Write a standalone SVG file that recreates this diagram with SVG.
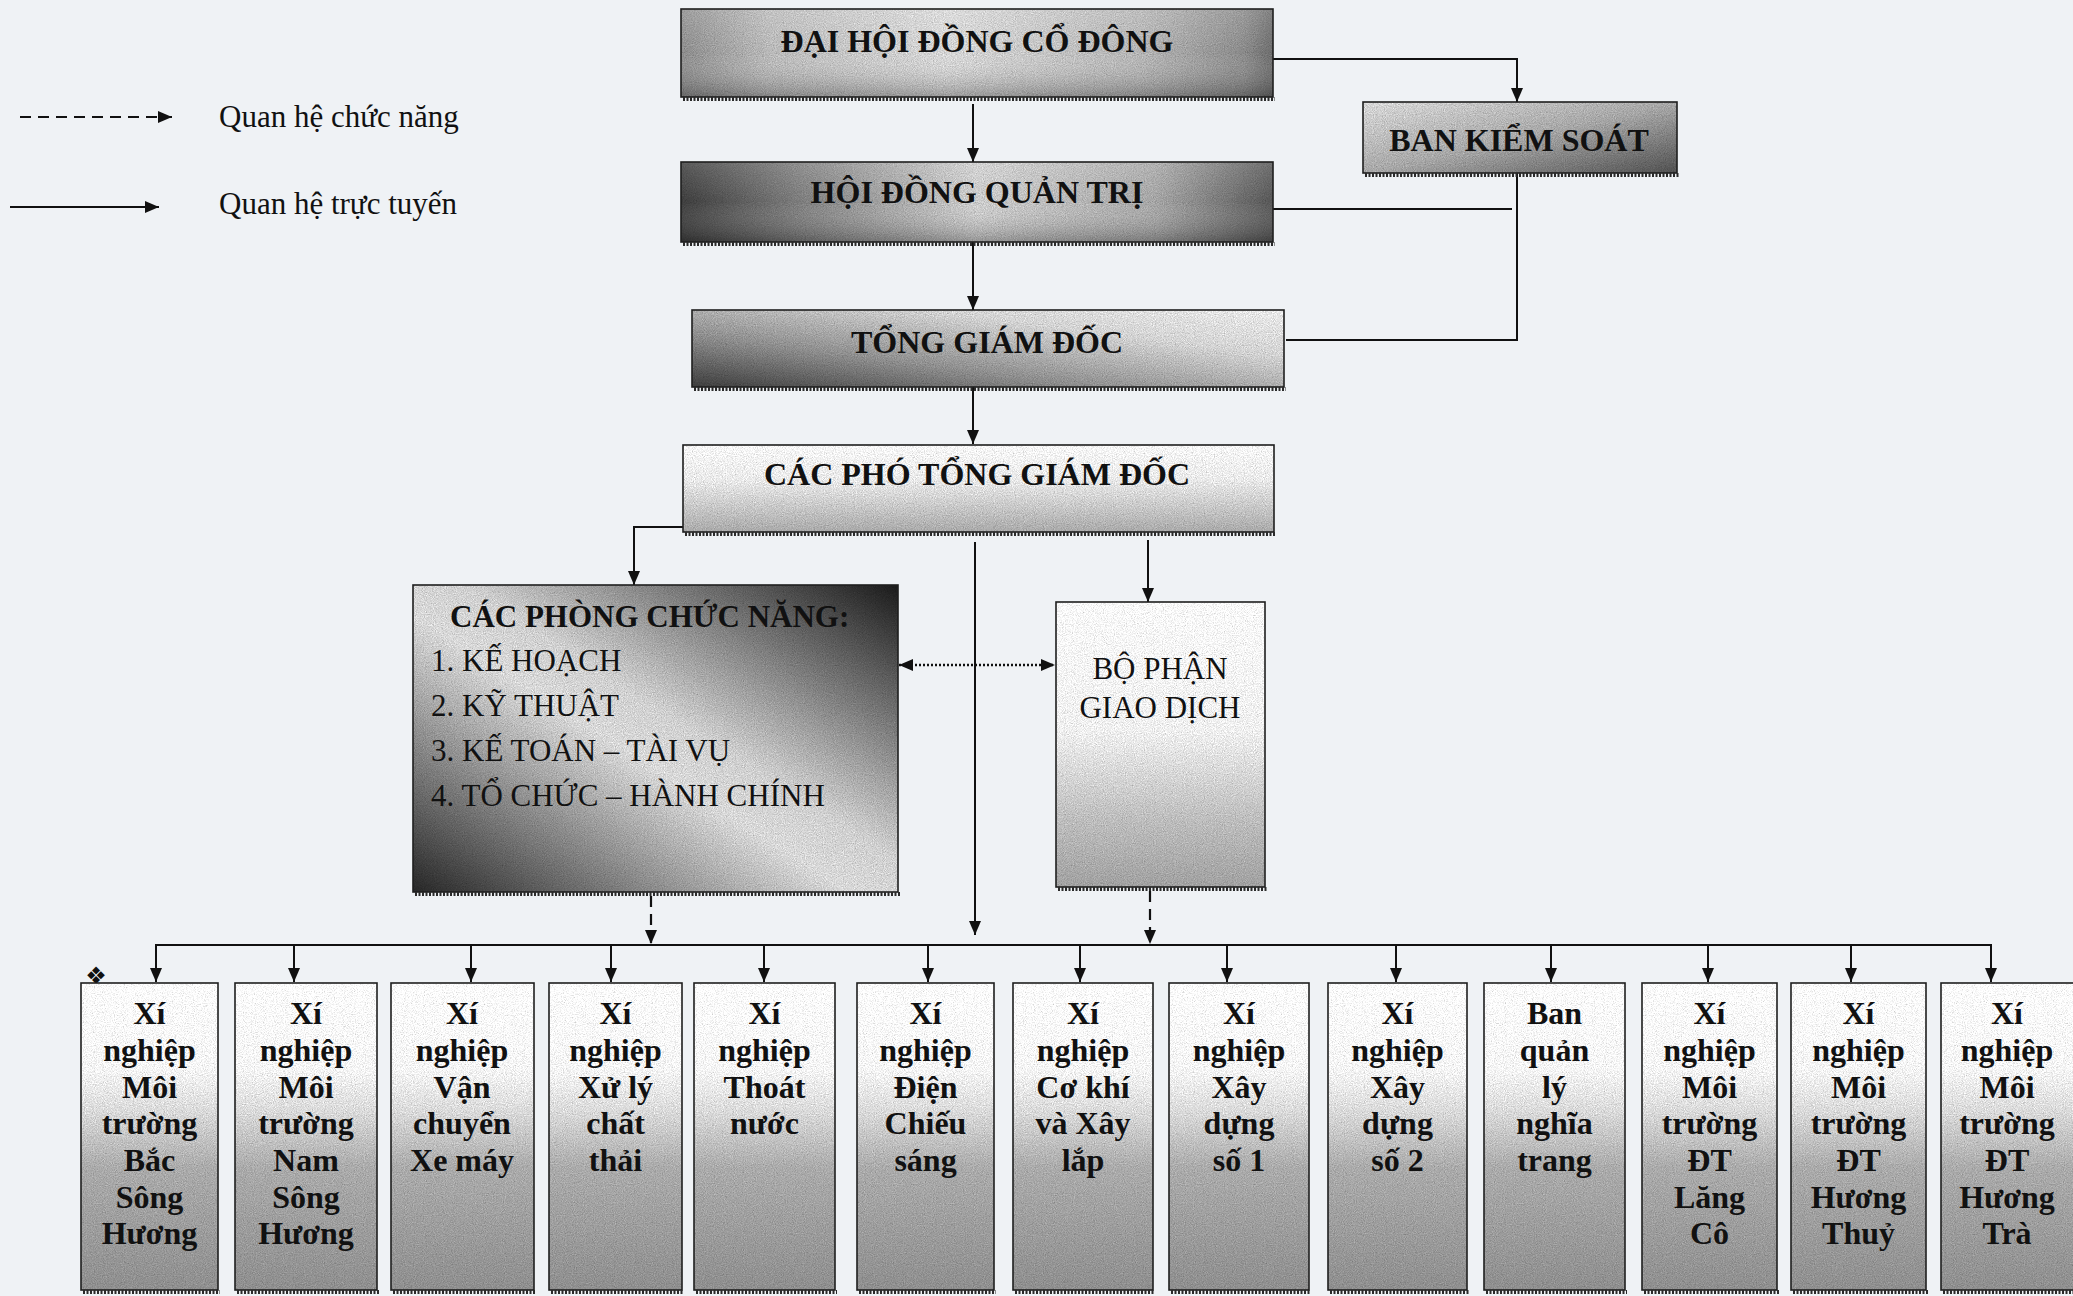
<svg xmlns="http://www.w3.org/2000/svg" width="2073" height="1296" viewBox="0 0 2073 1296">
<defs>
<style>
.bg{fill:#eff2f5}
.bd{fill:none;stroke:#1e1e1e;stroke-width:1.6}
.sh{stroke:#2a2a2a;stroke-width:4;stroke-dasharray:2 1.5}
.tb{font-family:"Liberation Serif","Times New Roman",serif;font-weight:bold;font-size:32px;fill:#111;text-anchor:middle}
.tr{font-family:"Liberation Serif","Times New Roman",serif;font-size:31px;fill:#111}
.tx{font-family:"Liberation Serif","Times New Roman",serif;font-weight:bold;font-size:32px;fill:#111;text-anchor:middle}
.ln{fill:none;stroke:#111;stroke-width:2}
.ds{fill:none;stroke:#111;stroke-width:2.2;stroke-dasharray:11 7}
.dt{fill:none;stroke:#111;stroke-width:2.5;stroke-dasharray:2 2}
.arr{marker-end:url(#ah)}
</style>
<marker id="ah" viewBox="0 0 14 12" refX="14" refY="6" markerWidth="14" markerHeight="12" orient="auto-start-reverse" markerUnits="userSpaceOnUse">
<path d="M0,0 L14,6 L0,12 z" fill="#111"/>
</marker>
<filter id="grain" x="0" y="0" width="1" height="1" color-interpolation-filters="sRGB">
<feTurbulence type="fractalNoise" baseFrequency="0.9" numOctaves="2" seed="7" result="t"/>
<feColorMatrix in="t" type="matrix" values="0.33 0.33 0.33 0 0 0.33 0.33 0.33 0 0 0.33 0.33 0.33 0 0 0 0 0 0 1" result="g"/>
<feComposite in="SourceGraphic" in2="g" operator="arithmetic" k1="0.8" k2="0.62" k3="0" k4="0" result="m"/>
<feComposite in="m" in2="SourceGraphic" operator="in"/>
</filter>
<linearGradient id="gDH" x1="0" y1="0" x2="1" y2="0">
<stop offset="0" stop-color="#8a8a8a"/><stop offset="0.15" stop-color="#b5b5b5"/><stop offset="0.45" stop-color="#d2d2d2"/><stop offset="0.78" stop-color="#b0b0b0"/><stop offset="0.95" stop-color="#888"/><stop offset="1" stop-color="#6a6a6a"/>
</linearGradient>
<linearGradient id="gV" x1="0" y1="0" x2="0" y2="1">
<stop offset="0" stop-color="#fff" stop-opacity="0.15"/><stop offset="0.5" stop-color="#fff" stop-opacity="0"/><stop offset="1" stop-color="#000" stop-opacity="0.28"/>
</linearGradient>
<linearGradient id="gHD" x1="0" y1="0" x2="1" y2="0">
<stop offset="0" stop-color="#3c3c3c"/><stop offset="0.2" stop-color="#7a7a7a"/><stop offset="0.5" stop-color="#c8c8c8"/><stop offset="0.8" stop-color="#a2a2a2"/><stop offset="1" stop-color="#555"/>
</linearGradient>
<linearGradient id="gTG" x1="0" y1="1" x2="1" y2="0">
<stop offset="0" stop-color="#3c3c3c"/><stop offset="0.35" stop-color="#8e8e8e"/><stop offset="0.7" stop-color="#d0d0d0"/><stop offset="1" stop-color="#e6e6e6"/>
</linearGradient>
<linearGradient id="gPT" x1="0" y1="0" x2="0" y2="1">
<stop offset="0" stop-color="#f4f4f4"/><stop offset="0.4" stop-color="#e6e6e6"/><stop offset="1" stop-color="#a6a6a6"/>
</linearGradient>
<linearGradient id="gBK" x1="0" y1="0" x2="1" y2="1">
<stop offset="0" stop-color="#d5d5d5"/><stop offset="0.5" stop-color="#a5a5a5"/><stop offset="1" stop-color="#4f4f4f"/>
</linearGradient>
<linearGradient id="gPH" x1="0" y1="1" x2="1" y2="0">
<stop offset="0" stop-color="#262626"/><stop offset="0.45" stop-color="#d5d5d5"/><stop offset="0.55" stop-color="#cdcdcd"/><stop offset="1" stop-color="#1a1a1a"/>
</linearGradient>
<linearGradient id="gBP" x1="0" y1="0" x2="0" y2="1">
<stop offset="0" stop-color="#f6f6f6"/><stop offset="0.45" stop-color="#ececec"/><stop offset="0.75" stop-color="#bcbcbc"/><stop offset="1" stop-color="#9e9e9e"/>
</linearGradient>
<linearGradient id="gX" x1="0" y1="0" x2="0" y2="1">
<stop offset="0" stop-color="#fafafa"/><stop offset="0.28" stop-color="#f2f2f2"/><stop offset="0.42" stop-color="#d6d6d6"/><stop offset="0.6" stop-color="#a8a8a8"/><stop offset="1" stop-color="#8c8c8c"/>
</linearGradient>
</defs>
<rect class="bg" x="0" y="0" width="2073" height="1296"/>

<g id="legend">
<line class="ds" x1="20" y1="117" x2="172" y2="117" marker-end="url(#ah)"/>
<text class="tr" x="219" y="127" font-size="30">Quan hệ chức năng</text>
<line class="ln" x1="10" y1="207" x2="159" y2="207" marker-end="url(#ah)"/>
<text class="tr" x="219" y="214" font-size="30">Quan hệ trực tuyến</text>
</g>

<g id="connectors">
<line class="ln arr" x1="973" y1="104" x2="973" y2="162"/>
<polyline class="ln arr" points="1273,59 1517,59 1517,102"/>
<line class="ln" x1="1273" y1="209" x2="1512" y2="209"/>
<polyline class="ln" points="1517,173 1517,340 1286,340"/>
<line class="ln arr" x1="973" y1="242" x2="973" y2="310"/>
<line class="ln arr" x1="973" y1="387" x2="973" y2="444"/>
<polyline class="ln arr" points="683,527 634,527 634,585"/>
<line class="ln arr" x1="975" y1="542" x2="975" y2="935"/>
<line class="ln arr" x1="1148" y1="540" x2="1148" y2="602"/>
<line class="dt" x1="899" y1="665" x2="1055" y2="665" marker-start="url(#ah)" marker-end="url(#ah)"/>
<line class="ds arr" x1="651" y1="896" x2="651" y2="944"/>
<line class="ds arr" x1="1150" y1="891" x2="1150" y2="944"/>
<line class="ln" x1="155" y1="945" x2="1992" y2="945"/>
<line class="ln arr" x1="156" y1="945" x2="156" y2="982"/>
<line class="ln arr" x1="294" y1="945" x2="294" y2="982"/>
<line class="ln arr" x1="471" y1="945" x2="471" y2="982"/>
<line class="ln arr" x1="611" y1="945" x2="611" y2="982"/>
<line class="ln arr" x1="764" y1="945" x2="764" y2="982"/>
<line class="ln arr" x1="928" y1="945" x2="928" y2="982"/>
<line class="ln arr" x1="1080" y1="945" x2="1080" y2="982"/>
<line class="ln arr" x1="1227" y1="945" x2="1227" y2="982"/>
<line class="ln arr" x1="1396" y1="945" x2="1396" y2="982"/>
<line class="ln arr" x1="1551" y1="945" x2="1551" y2="982"/>
<line class="ln arr" x1="1708" y1="945" x2="1708" y2="982"/>
<line class="ln arr" x1="1851" y1="945" x2="1851" y2="982"/>
<line class="ln arr" x1="1991" y1="945" x2="1991" y2="982"/>
</g>

<g id="dai-hoi-dong-co-dong">
<rect x="681" y="9" width="592" height="88" fill="url(#gDH)" filter="url(#grain)"/>
<rect x="681" y="9" width="592" height="88" fill="url(#gV)"/>
<rect class="bd" x="681" y="9" width="592" height="88"/>
<line class="sh" x1="683" y1="99" x2="1275" y2="99"/>
<text class="tb" x="977" y="52">ĐẠI HỘI ĐỒNG CỔ ĐÔNG</text>
</g>

<g id="ban-kiem-soat">
<rect x="1363" y="102" width="314" height="71" fill="url(#gBK)" filter="url(#grain)"/>
<rect class="bd" x="1363" y="102" width="314" height="71"/>
<line class="sh" x1="1365" y1="175" x2="1679" y2="175"/>
<text class="tb" x="1519" y="151">BAN KIỂM SOÁT</text>
</g>

<g id="hoi-dong-quan-tri">
<rect x="681" y="162" width="592" height="80" fill="url(#gHD)" filter="url(#grain)"/>
<rect x="681" y="162" width="592" height="80" fill="url(#gV)"/>
<rect class="bd" x="681" y="162" width="592" height="80"/>
<line class="sh" x1="683" y1="244" x2="1275" y2="244"/>
<text class="tb" x="977" y="203">HỘI ĐỒNG QUẢN TRỊ</text>
</g>

<g id="tong-giam-doc">
<rect x="692" y="310" width="592" height="77" fill="url(#gTG)" filter="url(#grain)"/>
<rect class="bd" x="692" y="310" width="592" height="77"/>
<line class="sh" x1="694" y1="389" x2="1286" y2="389"/>
<text class="tb" x="987" y="353">TỔNG GIÁM ĐỐC</text>
</g>

<g id="cac-pho-tong-giam-doc">
<rect x="683" y="445" width="591" height="87" fill="url(#gPT)" filter="url(#grain)"/>
<rect class="bd" x="683" y="445" width="591" height="87"/>
<line class="sh" x1="685" y1="534" x2="1276" y2="534"/>
<text class="tb" x="977" y="485">CÁC PHÓ TỔNG GIÁM ĐỐC</text>
</g>

<g id="cac-phong-chuc-nang">
<rect x="413" y="585" width="485" height="307" fill="url(#gPH)" filter="url(#grain)"/>
<rect class="bd" x="413" y="585" width="485" height="307"/>
<line class="sh" x1="415" y1="894" x2="900" y2="894"/>
<text class="tr" x="450" y="627" font-weight="bold" font-size="31.5">CÁC PHÒNG CHỨC NĂNG:</text>
<text class="tr" x="431" y="671">1. KẾ HOẠCH</text>
<text class="tr" x="431" y="716">2. KỸ THUẬT</text>
<text class="tr" x="431" y="761">3. KẾ TOÁN – TÀI VỤ</text>
<text class="tr" x="431" y="806">4. TỔ CHỨC – HÀNH CHÍNH</text>
</g>

<g id="bo-phan-giao-dich">
<rect x="1056" y="602" width="209" height="285" fill="url(#gBP)" filter="url(#grain)"/>
<rect class="bd" x="1056" y="602" width="209" height="285"/>
<line class="sh" x1="1058" y1="889" x2="1267" y2="889"/>
<text class="tr" x="1160" y="679" text-anchor="middle">BỘ PHẬN</text>
<text class="tr" x="1160" y="718" text-anchor="middle">GIAO DỊCH</text>
</g>

<text x="96" y="984" font-family="DejaVu Sans, sans-serif" font-size="24" fill="#111" text-anchor="middle">❖</text>

<g id="xn-bac-song-huong">
<rect x="81" y="983" width="137" height="307" fill="url(#gX)" filter="url(#grain)"/>
<rect class="bd" x="81" y="983" width="137" height="307"/>
<line class="sh" x1="83" y1="1292" x2="220" y2="1292"/>
<text class="tx"><tspan x="149.5" y="1024">Xí</tspan><tspan x="149.5" y="1061">nghiệp</tspan><tspan x="149.5" y="1098">Môi</tspan><tspan x="149.5" y="1134">trường</tspan><tspan x="149.5" y="1171">Bắc</tspan><tspan x="149.5" y="1208">Sông</tspan><tspan x="149.5" y="1244">Hương</tspan></text>
</g>

<g id="xn-nam-song-huong">
<rect x="235" y="983" width="142" height="307" fill="url(#gX)" filter="url(#grain)"/>
<rect class="bd" x="235" y="983" width="142" height="307"/>
<line class="sh" x1="237" y1="1292" x2="379" y2="1292"/>
<text class="tx"><tspan x="306" y="1024">Xí</tspan><tspan x="306" y="1061">nghiệp</tspan><tspan x="306" y="1098">Môi</tspan><tspan x="306" y="1134">trường</tspan><tspan x="306" y="1171">Nam</tspan><tspan x="306" y="1208">Sông</tspan><tspan x="306" y="1244">Hương</tspan></text>
</g>

<g id="xn-van-chuyen-xe-may">
<rect x="391" y="983" width="143" height="307" fill="url(#gX)" filter="url(#grain)"/>
<rect class="bd" x="391" y="983" width="143" height="307"/>
<line class="sh" x1="393" y1="1292" x2="536" y2="1292"/>
<text class="tx"><tspan x="462" y="1024">Xí</tspan><tspan x="462" y="1061">nghiệp</tspan><tspan x="462" y="1098">Vận</tspan><tspan x="462" y="1134">chuyển</tspan><tspan x="462" y="1171">Xe máy</tspan></text>
</g>

<g id="xn-xu-ly-chat-thai">
<rect x="549" y="983" width="133" height="307" fill="url(#gX)" filter="url(#grain)"/>
<rect class="bd" x="549" y="983" width="133" height="307"/>
<line class="sh" x1="551" y1="1292" x2="684" y2="1292"/>
<text class="tx"><tspan x="615.5" y="1024">Xí</tspan><tspan x="615.5" y="1061">nghiệp</tspan><tspan x="615.5" y="1098">Xử lý</tspan><tspan x="615.5" y="1134">chất</tspan><tspan x="615.5" y="1171">thải</tspan></text>
</g>

<g id="xn-thoat-nuoc">
<rect x="694" y="983" width="141" height="307" fill="url(#gX)" filter="url(#grain)"/>
<rect class="bd" x="694" y="983" width="141" height="307"/>
<line class="sh" x1="696" y1="1292" x2="837" y2="1292"/>
<text class="tx"><tspan x="764.5" y="1024">Xí</tspan><tspan x="764.5" y="1061">nghiệp</tspan><tspan x="764.5" y="1098">Thoát</tspan><tspan x="764.5" y="1134">nước</tspan></text>
</g>

<g id="xn-dien-chieu-sang">
<rect x="857" y="983" width="137" height="307" fill="url(#gX)" filter="url(#grain)"/>
<rect class="bd" x="857" y="983" width="137" height="307"/>
<line class="sh" x1="859" y1="1292" x2="996" y2="1292"/>
<text class="tx"><tspan x="925.5" y="1024">Xí</tspan><tspan x="925.5" y="1061">nghiệp</tspan><tspan x="925.5" y="1098">Điện</tspan><tspan x="925.5" y="1134">Chiếu</tspan><tspan x="925.5" y="1171">sáng</tspan></text>
</g>

<g id="xn-co-khi-xay-lap">
<rect x="1013" y="983" width="140" height="307" fill="url(#gX)" filter="url(#grain)"/>
<rect class="bd" x="1013" y="983" width="140" height="307"/>
<line class="sh" x1="1015" y1="1292" x2="1155" y2="1292"/>
<text class="tx"><tspan x="1083" y="1024">Xí</tspan><tspan x="1083" y="1061">nghiệp</tspan><tspan x="1083" y="1098">Cơ khí</tspan><tspan x="1083" y="1134">và Xây</tspan><tspan x="1083" y="1171">lắp</tspan></text>
</g>

<g id="xn-xay-dung-so-1">
<rect x="1169" y="983" width="140" height="307" fill="url(#gX)" filter="url(#grain)"/>
<rect class="bd" x="1169" y="983" width="140" height="307"/>
<line class="sh" x1="1171" y1="1292" x2="1311" y2="1292"/>
<text class="tx"><tspan x="1239" y="1024">Xí</tspan><tspan x="1239" y="1061">nghiệp</tspan><tspan x="1239" y="1098">Xây</tspan><tspan x="1239" y="1134">dựng</tspan><tspan x="1239" y="1171">số 1</tspan></text>
</g>

<g id="xn-xay-dung-so-2">
<rect x="1328" y="983" width="139" height="307" fill="url(#gX)" filter="url(#grain)"/>
<rect class="bd" x="1328" y="983" width="139" height="307"/>
<line class="sh" x1="1330" y1="1292" x2="1469" y2="1292"/>
<text class="tx"><tspan x="1397.5" y="1024">Xí</tspan><tspan x="1397.5" y="1061">nghiệp</tspan><tspan x="1397.5" y="1098">Xây</tspan><tspan x="1397.5" y="1134">dựng</tspan><tspan x="1397.5" y="1171">số 2</tspan></text>
</g>

<g id="ban-quan-ly-nghia-trang">
<rect x="1484" y="983" width="141" height="307" fill="url(#gX)" filter="url(#grain)"/>
<rect class="bd" x="1484" y="983" width="141" height="307"/>
<line class="sh" x1="1486" y1="1292" x2="1627" y2="1292"/>
<text class="tx"><tspan x="1554.5" y="1024">Ban</tspan><tspan x="1554.5" y="1061">quản</tspan><tspan x="1554.5" y="1098">lý</tspan><tspan x="1554.5" y="1134">nghĩa</tspan><tspan x="1554.5" y="1171">trang</tspan></text>
</g>

<g id="xn-lang-co">
<rect x="1642" y="983" width="135" height="307" fill="url(#gX)" filter="url(#grain)"/>
<rect class="bd" x="1642" y="983" width="135" height="307"/>
<line class="sh" x1="1644" y1="1292" x2="1779" y2="1292"/>
<text class="tx"><tspan x="1709.5" y="1024">Xí</tspan><tspan x="1709.5" y="1061">nghiệp</tspan><tspan x="1709.5" y="1098">Môi</tspan><tspan x="1709.5" y="1134">trường</tspan><tspan x="1709.5" y="1171">ĐT</tspan><tspan x="1709.5" y="1208">Lăng</tspan><tspan x="1709.5" y="1244">Cô</tspan></text>
</g>

<g id="xn-huong-thuy">
<rect x="1791" y="983" width="135" height="307" fill="url(#gX)" filter="url(#grain)"/>
<rect class="bd" x="1791" y="983" width="135" height="307"/>
<line class="sh" x1="1793" y1="1292" x2="1928" y2="1292"/>
<text class="tx"><tspan x="1858.5" y="1024">Xí</tspan><tspan x="1858.5" y="1061">nghiệp</tspan><tspan x="1858.5" y="1098">Môi</tspan><tspan x="1858.5" y="1134">trường</tspan><tspan x="1858.5" y="1171">ĐT</tspan><tspan x="1858.5" y="1208">Hương</tspan><tspan x="1858.5" y="1244">Thuỷ</tspan></text>
</g>

<g id="xn-huong-tra">
<rect x="1941" y="983" width="138" height="307" fill="url(#gX)" filter="url(#grain)"/>
<rect class="bd" x="1941" y="983" width="138" height="307"/>
<line class="sh" x1="1943" y1="1292" x2="2079" y2="1292"/>
<text class="tx"><tspan x="2007" y="1024">Xí</tspan><tspan x="2007" y="1061">nghiệp</tspan><tspan x="2007" y="1098">Môi</tspan><tspan x="2007" y="1134">trường</tspan><tspan x="2007" y="1171">ĐT</tspan><tspan x="2007" y="1208">Hương</tspan><tspan x="2007" y="1244">Trà</tspan></text>
</g>
</svg>
